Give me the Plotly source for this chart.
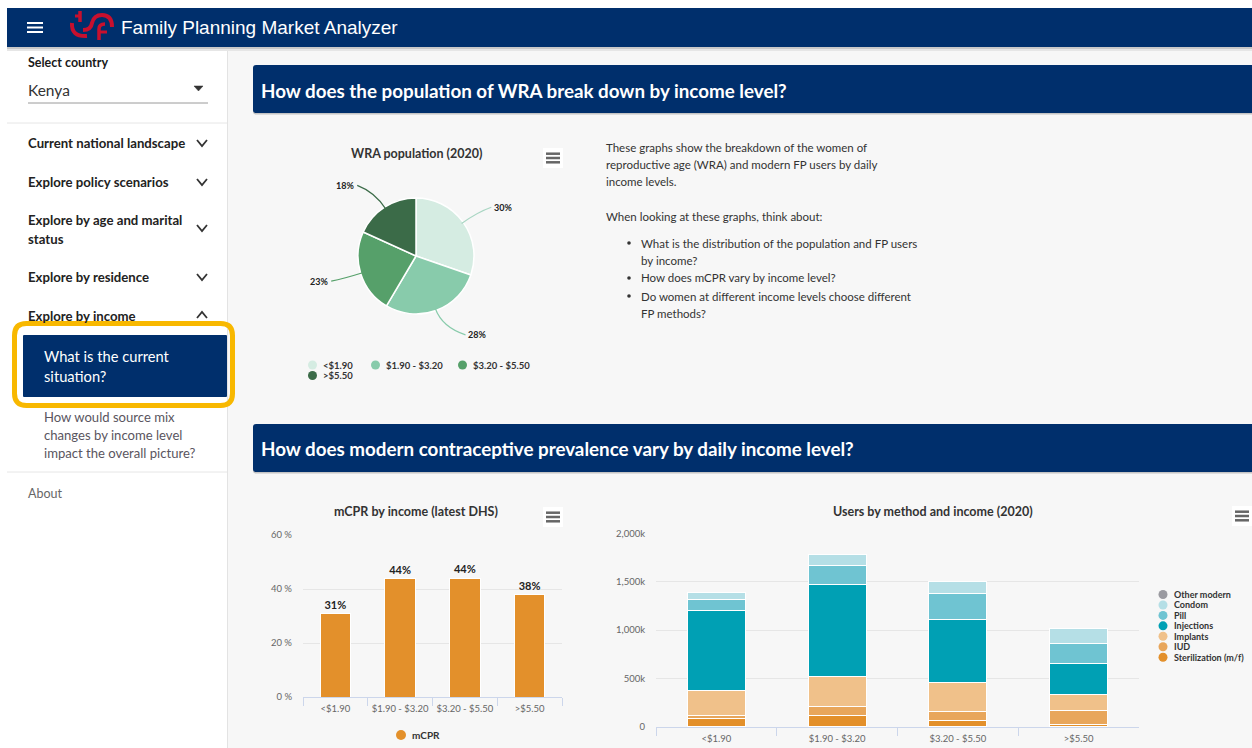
import math
import plotly.graph_objects as go

# ---------------- data ----------------
income_levels = ["<$1.90", "$1.90 - $3.20", "$3.20 - $5.50", ">$5.50"]

wra_share = [30.3, 28.2, 23.3, 18.2]          # WRA population (2020), %
pie_colors = ["#d5ece2", "#88cbab", "#56a06a", "#3b6b48"]

mcpr = [30.8, 43.8, 43.9, 37.8]               # mCPR by income (latest DHS), %
mcpr_tickvals = [0, 20, 40, 60]
mcpr_ticktext = ["0 %", "20 %", "40 %", "60 %"]

sterilization = [86000, 121000, 66000, 28000]
iud = [34000, 86000, 90000, 145000]
implants = [259000, 310000, 300000, 166000]
injections = [824000, 952000, 659000, 314000]
pill = [110000, 203000, 266000, 214000]
condom = [72000, 114000, 124000, 145000]
other_modern = [0, 0, 0, 0]

method_names = ["Sterilization (m/f)", "IUD", "Implants", "Injections", "Pill", "Condom", "Other modern"]
method_values = [sterilization, iud, implants, injections, pill, condom, other_modern]
method_colors = ["#e3902b", "#e8a65b", "#f0c18a", "#00a0b4", "#6fc4d2", "#b5dfe6", "#9a9aa0"]

users_tickvals = [0, 500000, 1000000, 1500000, 2000000]
users_ticktext = ["0", "500k", "1,000k", "1,500k", "2,000k"]

menu_items = ["Current national landscape", "Explore policy scenarios",
              "Explore by age and marital", "Explore by residence", "Explore by income"]

# ---------------- geometry helpers (page pixels -> paper) ----------------
W, H = 1252, 748


def X(px):
    return px / W


def Y(py):
    return 1 - py / H


FONT = "Lato"
NAVY = "#002f6c"
DARK = "#2b2b2b"

shapes = []
annotations = []


def rect(x0, y0, x1, y1, fill, line_color=None, lw=0, layer="below"):
    shapes.append(dict(type="rect", xref="paper", yref="paper",
                       x0=X(x0), x1=X(x1), y0=Y(y1), y1=Y(y0),
                       fillcolor=fill, line=dict(color=line_color or fill, width=lw),
                       layer=layer))


def line(x0, y0, x1, y1, color, width=1, layer="above"):
    shapes.append(dict(type="line", xref="paper", yref="paper",
                       x0=X(x0), y0=Y(y0), x1=X(x1), y1=Y(y1),
                       line=dict(color=color, width=width), layer=layer))


def path(cmds, color=None, width=1, fill=None, layer="above"):
    s = ""
    for c, pts in cmds:
        s += c + " "
        for i in range(0, len(pts), 2):
            s += "%f,%f " % (X(pts[i]), Y(pts[i + 1]))
    if fill:
        s += "Z"
    shapes.append(dict(type="path", xref="paper", yref="paper", path=s,
                       fillcolor=fill or "rgba(0,0,0,0)",
                       line=dict(color=color or "rgba(0,0,0,0)", width=width), layer=layer))


def rrect(x0, y0, x1, y1, r, fill=None, color=None, width=0, layer="above"):
    cmds = [("M", [x0 + r, y0]), ("L", [x1 - r, y0]), ("Q", [x1, y0, x1, y0 + r]),
            ("L", [x1, y1 - r]), ("Q", [x1, y1, x1 - r, y1]), ("L", [x0 + r, y1]),
            ("Q", [x0, y1, x0, y1 - r]), ("L", [x0, y0 + r]), ("Q", [x0, y0, x0 + r, y0])]
    path(cmds, color=color, width=width, fill=fill, layer=layer)


def circle(cx, cy, r, color, layer="above"):
    shapes.append(dict(type="circle", xref="paper", yref="paper",
                       x0=X(cx - r), x1=X(cx + r), y0=Y(cy + r), y1=Y(cy - r),
                       fillcolor=color, line=dict(color=color, width=0), layer=layer))


def txt(x, y, s, size, color=DARK, anchor="left", family=FONT):
    annotations.append(dict(xref="paper", yref="paper", x=X(x), y=Y(y), text=s,
                            showarrow=False, xanchor=anchor, yanchor="middle",
                            font=dict(size=size, color=color, family=family),
                            borderpad=0))


def chevron(cx, cy, up=False):
    d = -3 if up else 3
    path([("M", [cx - 5, cy - d]), ("L", [cx, cy + d]), ("L", [cx + 5, cy - d])],
         color="#333333", width=1.8)


def burger(x0, x1, ys, color="#666666", width=2.5):
    for yy in ys:
        line(x0, yy, x1, yy, color, width)


# ---------------- page chrome ----------------
rect(227, 47, 1252, 748, "#f7f7f7")                 # main area
rect(7, 47, 227, 748, "#ffffff")                    # sidebar
line(227.5, 47, 227.5, 748, "#e3e3e3", 1, layer="below")
# header
rect(7, 47, 1252, 49, "#c8c8c8")
rect(7, 49, 1252, 51, "#e6e6e6")
rect(7, 8, 1252, 47, NAVY)
burger(27, 43, [23, 27.5, 32], color="#ffffff", width=2)
# logo (approximate swirl)
RED = "#c8102e"
path([("M", [80, 11]), ("L", [80, 22])], color=RED, width=3.5)
path([("M", [75, 16]), ("L", [80, 16])], color=RED, width=3)
path([("M", [72, 23]), ("Q", [71, 37, 87, 36])], color=RED, width=4)
path([("M", [83, 30]), ("Q", [91, 30, 92, 23]), ("Q", [94, 15, 102, 15]),
      ("Q", [112, 15, 112, 27])], color=RED, width=4)
path([("M", [99, 40]), ("L", [99, 29]), ("Q", [99, 24, 105, 24])], color=RED, width=3.5)
path([("M", [99, 32]), ("L", [107, 32])], color=RED, width=3)
txt(120, 27, "Family Planning Market Analyzer", 19, "#ffffff", family="Liberation Sans")

# sidebar content
txt(27, 62, "<b>Select country</b>", 12.5, "#1a1a1a")
txt(27, 90, "Kenya", 15.5, "#333333")
path([("M", [194, 86]), ("L", [203, 86]), ("L", [198.5, 91])], fill="#333333", color="#333333", width=0.5)
line(28, 103, 208, 103, "#9a9a9a", 1)
line(7, 123, 227, 123, "#e6e6e6", 1)
menu_y = [143, 182, 220, 277, 316]
for name, yy in zip(menu_items, menu_y):
    txt(27, yy, "<b>%s</b>" % name, 13.2, "#222222")
txt(27, 239, "<b>status</b>", 13.2, "#222222")
for yy in [143, 182, 228, 277]:
    chevron(202, yy)
chevron(202, 315, up=True)
# selected item
rrect(23, 335, 227, 397, 1, fill=NAVY, width=0)
rrect(14.5, 323.5, 232.5, 405.5, 12, color="#f8b800", width=5)
txt(43, 356, "What is the current", 14.7, "#ffffff")
txt(43, 376, "situation?", 14.7, "#ffffff")
txt(43, 417, "How would source mix", 13.1, "#5a5560")
txt(43, 435, "changes by income level", 13.1, "#5a5560")
txt(43, 453, "impact the overall picture?", 13.1, "#5a5560")
line(7, 472, 227, 472, "#e6e6e6", 1)
txt(27, 493, "About", 12.5, "#666666")

# section headers
for (y0, y1, title) in [(65, 113, "How does the population of WRA break down by income level?"),
                        (424, 472, "How does modern contraceptive prevalence vary by daily income level?")]:
    rrect(253, y0 + 1.5, 1262, y1 + 1.5, 3, fill="#c4c4c4", width=0, layer="below")
    rrect(253, y0, 1262, y1, 3, fill=NAVY, width=0, layer="below")
    txt(260, (y0 + y1) / 2 + 1, "<b>%s</b>" % title, 18.8, "#ffffff")

# intro text
para = [(147, 605, "These graphs show the breakdown of the women of"),
        (164, 605, "reproductive age (WRA) and modern FP users by daily"),
        (182, 605, "income levels."),
        (216, 605, "When looking at these graphs, think about:"),
        (243, 640, "What is the distribution of the population and FP users"),
        (261, 640, "by income?"),
        (278, 640, "How does mCPR vary by income level?"),
        (296, 640, "Do women at different income levels choose different"),
        (313, 640, "FP methods?")]
for yy, xx, s in para:
    txt(xx, yy, s, 11.5, "#333333")
for yy in [243, 278, 296]:
    circle(629, yy, 1.8, "#333333")

# chart titles & menu buttons
txt(416, 153, "<b>WRA population (2020)</b>", 12.5, "#333333", anchor="center")
txt(416, 512, "<b>mCPR by income (latest DHS)</b>", 12.5, "#333333", anchor="center")
txt(933, 512, "<b>Users by method and income (2020)</b>", 12.5, "#333333", anchor="center")
for bx, by in [(553, 158), (553, 517), (1242, 516)]:
    rect(bx - 10, by - 10, bx + 10, by + 10, "#ffffff", layer="below")
    burger(bx - 7, bx + 7, [by - 4.3, by, by + 4.3])

# ---------------- pie labels (computed from the data) ----------------
PCX, PCY, PR, LR = 416, 256, 58, 100
total = sum(wra_share)
cum = 0.0
for v, c in zip(wra_share, pie_colors):
    mid = (cum + v / 2) / total * 2 * math.pi
    cum += v
    s, co = math.sin(mid), math.cos(mid)
    dy = -0.84 * LR * co
    side = 1 if s >= 0 else -1
    dx = side * math.sqrt(max(LR ** 2 - dy ** 2, 0))
    lx, ly = PCX + dx, PCY + dy
    conn = "#a9d6c3" if c == pie_colors[0] else c
    ex, ey = PCX + (PR - 2) * s, PCY - (PR - 2) * co
    mx, my = PCX + (PR + 18) * s, PCY - (PR + 18) * co
    path([("M", [ex, ey]), ("Q", [mx, my, lx - side * 12, ly])], color=conn, width=1.2)
    txt(lx, ly, "<b>%d%%</b>" % round(v / total * 100), 9, "#222222", anchor="center")

# pie legend
leg_pos = [(312.5, 365), (375.5, 365), (462.5, 365), (312.5, 375.5)]
for (lx, ly), lab, c in zip(leg_pos, income_levels, pie_colors):
    circle(lx, ly, 4.5, c)
    txt(lx + 9, ly, "<b>%s</b>" % lab, 9.5, "#333333")

# mCPR legend
circle(401, 735, 5, method_colors[0])
txt(411, 735, "<b>mCPR</b>", 10, "#333333")

# stacked legend (top to bottom)
for i, (nm, c) in enumerate(zip(method_names[::-1], method_colors[::-1])):
    yy = 594.5 + i * 10.45
    circle(1163, yy, 4.5, c)
    txt(1172.5, yy, "<b>%s</b>" % nm, 9, "#333333")

# ---------------- traces ----------------
fig = go.Figure()
fig.add_trace(go.Pie(values=wra_share, labels=income_levels, sort=False, direction="clockwise",
                     rotation=0, textinfo="none", showlegend=False,
                     marker=dict(colors=pie_colors, line=dict(color="#ffffff", width=1.5)),
                     domain=dict(x=[X(358), X(474)], y=[Y(314.5), Y(197.5)])))

fig.add_trace(go.Bar(x=income_levels, y=mcpr, width=0.47, showlegend=False,
                     marker=dict(color=method_colors[0], line=dict(color="#ffffff", width=1)),
                     texttemplate="<b>%{y:.0f}%</b>", textposition="outside", cliponaxis=False,
                     textfont=dict(size=11, color="#222222", family=FONT),
                     xaxis="x", yaxis="y"))

for nm, vals, c in zip(method_names, method_values, method_colors):
    fig.add_trace(go.Bar(x=income_levels, y=vals, name=nm, width=0.48, showlegend=False,
                         marker=dict(color=c, line=dict(color="#ffffff",
                                                        width=1 if sum(vals) > 0 else 0)),
                         xaxis="x2", yaxis="y2"))

axis_common_x = dict(type="category", showline=True, linecolor="#ccd6eb", linewidth=1,
                     ticks="outside", tickson="boundaries", ticklen=8, tickcolor="#ccd6eb",
                     tickangle=0, showgrid=False, zeroline=False, fixedrange=True,
                     automargin=False, ticklabelstandoff=3,
                     tickfont=dict(size=9.5, color="#666666", family=FONT))
axis_common_y = dict(showline=False, gridcolor="#e6e6e6", gridwidth=1, zeroline=False,
                     fixedrange=True, ticks="", ticklabelstandoff=10, automargin=False,
                     tickfont=dict(size=9.5, color="#666666", family=FONT))

fig.update_layout(
    width=W, height=H, autosize=False, margin=dict(l=0, r=0, t=0, b=0, autoexpand=False),
    paper_bgcolor="#ffffff", plot_bgcolor="rgba(0,0,0,0)",
    barmode="stack", bargap=0.5, showlegend=False,
    font=dict(family=FONT),
    xaxis=dict(axis_common_x, domain=[X(303), X(562)], anchor="y"),
    yaxis=dict(axis_common_y, domain=[Y(697), Y(535)], range=[0, 60],
               tickvals=mcpr_tickvals, ticktext=mcpr_ticktext, anchor="x"),
    xaxis2=dict(axis_common_x, domain=[X(656), X(1139)], anchor="y2"),
    yaxis2=dict(axis_common_y, domain=[Y(727), Y(533.3)], range=[0, 2000000],
                tickvals=users_tickvals, ticktext=users_ticktext, anchor="x2"),
    shapes=shapes, annotations=annotations,
)

pin_to_viewport = ("var d=document.getElementById('{plot_id}');"
                   "d.style.position='fixed';d.style.left='0px';d.style.top='0px';"
                   "document.body.style.margin='0px';document.body.style.overflow='hidden';")

fig.write_html("out.html", config={"displayModeBar": False, "responsive": False},
               post_script=pin_to_viewport)
